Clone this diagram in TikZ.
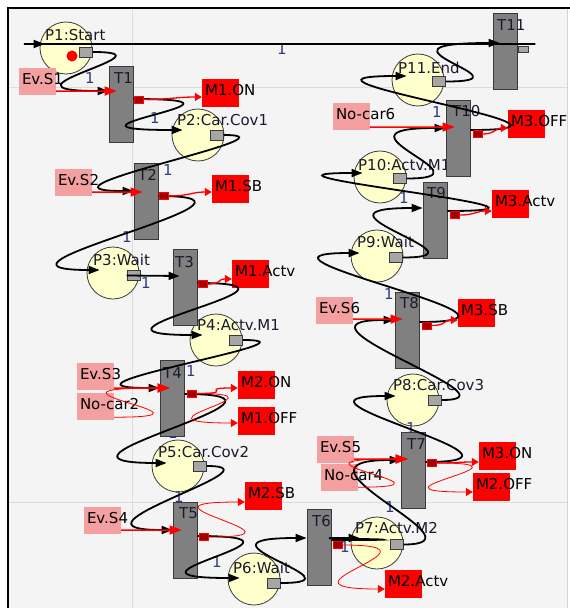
\documentclass[tikz,border=0pt]{standalone}
\usepackage{fontspec}
\setmainfont{DejaVu Sans}
\usetikzlibrary{calc,arrows.meta}

\definecolor{canvas}{HTML}{F4F4F4}
\definecolor{gridln}{HTML}{DCDCDC}
\definecolor{placefill}{HTML}{FFFFCC}
\definecolor{rim}{HTML}{3A3A3A}
\definecolor{transfill}{HTML}{808080}
\definecolor{portfill}{HTML}{A6A6A6}
\definecolor{evfill}{HTML}{F4A0A0}
\definecolor{actfill}{HTML}{FF0000}
\definecolor{firesq}{HTML}{A00000}
\definecolor{wcol}{HTML}{2E3C7E}
\definecolor{txt}{HTML}{1A1A2E}

% fixed-width text field: text may run past the coloured box
\newcommand{\boxtxt}[1]{\makebox[31pt][l]{#1}}

\tikzset{
  lbl/.style={font=\fontsize{15}{18}\selectfont, text=txt, inner sep=0pt, anchor=base west},
  wt/.style={font=\fontsize{15}{18}\selectfont, text=wcol, inner sep=0pt},
  place/.style={circle, draw=rim, fill=placefill, line width=0.8pt, minimum size=52pt, inner sep=0pt},
  port/.style={draw=rim, fill=portfill, line width=0.8pt, minimum width=13pt, minimum height=10pt, inner sep=0pt},
  trans/.style={draw=rim, fill=transfill, line width=0.8pt, minimum width=24pt, minimum height=76pt, inner sep=0pt},
  firesquare/.style={draw=red, fill=firesq, line width=0.6pt, minimum width=9pt, minimum height=7pt, inner sep=0pt},
  sigbox/.style={minimum width=37pt, minimum height=27pt, inner xsep=3pt, inner ysep=0pt,
                 text height=12pt, text depth=7pt, font=\fontsize{15}{18}\selectfont, text=black},
  evbox/.style={sigbox, fill=evfill},
  actbox/.style={sigbox, fill=actfill, minimum height=28pt},
  flow/.style={draw=black, line width=1.8pt, -{Triangle[length=11pt,width=8pt]}},
  redin/.style={draw=red, line width=1.5pt, -{Triangle[length=12pt,width=9pt]}},
  redloop/.style={draw=red, line width=0.8pt, -{Triangle[length=12pt,width=9pt]}},
  redout/.style={draw=red, line width=1.3pt, -{Triangle[length=7pt,width=8pt]}},
  redoutloop/.style={draw=red, line width=0.8pt, -{Triangle[length=7pt,width=8pt]}},
}

\begin{document}
\begin{tikzpicture}[x=1pt, y=-1pt]
\useasboundingbox (0,0) rectangle (570,608);

% ---- canvas, grid and frame ----
\fill[white] (0,0) rectangle (570,608);
\fill[canvas] (8,8) rectangle (567,608);
\draw[gridln, line width=0.8pt] (132,8) -- (132,608);
\draw[gridln, line width=0.8pt] (8,87) -- (567,87);
\draw[gridln, line width=0.8pt] (8,502) -- (567,502);
\draw[gridln!90!gray, line width=1pt] (567,8) -- (567,608);
\draw[black, line width=1.5pt] (8,608) -- (8,8) -- (570,8);

% ---- places ----
\node[place] (P1)  at (66,48)   {};
\node[place] (P2)  at (198,135) {};
\node[place] (P3)  at (113,273) {};
\node[place] (P4)  at (216,340) {};
\node[place] (P5)  at (178,466) {};
\node[place] (P6)  at (254,579) {};
\node[place] (P7)  at (377,543) {};
\node[place] (P8)  at (413,400) {};
\node[place] (P9)  at (377,256) {};
\node[place] (P10) at (380,177) {};
\node[place] (P11) at (418,80)  {};
\fill[red] (72,56) circle (5.5);

\node[lbl] (P1l)  at (45,40)   {P1:Start};
\node[lbl] (P2l)  at (177,125) {P2:Car.Cov1};
\node[lbl] (P3l)  at (93,265)  {P3:Wait};
\node[lbl] (P4l)  at (197,330) {P4:Actv.M1};
\node[lbl] (P5l)  at (158,457) {P5:Car.Cov2};
\node[lbl] (P6l)  at (233,573) {P6:Wait};
\node[lbl] (P7l)  at (355,533) {P7:Actv.M2};
\node[lbl] (P8l)  at (393,390) {P8:Car.Cov3};
\node[lbl] (P9l)  at (357,247) {P9:Wait};
\node[lbl] (P10l) at (358,170) {P10:Actv.M1};
\node[lbl] (P11l) at (398,73)  {P11.End};

% ---- arc weights (drawn below the transition bars) ----
\node[wt] (w1)  at (90,78)   {1};
\node[wt] (w2)  at (282,49)  {1};
\node[wt] (w3)  at (155,118) {1};
\node[wt] (w4)  at (168,170) {1};
\node[wt] (w5)  at (127,237) {1};
\node[wt] (w6)  at (146,283) {1};
\node[wt] (w7)  at (191,371) {1};
\node[wt] (w8)  at (173,433) {1};
\node[wt] (w18) at (179,497) {1};
\node[wt] (w9)  at (217,562) {1};
\node[wt] (w10) at (345,547) {1};
\node[wt] (w11) at (390,507) {1};
\node[wt] (w12) at (411,428) {1};
\node[wt] (w13) at (389,294) {1};
\node[wt] (w14) at (407,364) {1};
\node[wt] (w15) at (404,198) {1};
\node[wt] (w16) at (437,112) {1};

% ---- transitions ----
\node[trans] (T1)  at (121,104) {};
\node[trans] (T2)  at (146,201) {};
\node[trans] (T3)  at (185,287) {};
\node[trans] (T4)  at (172,398) {};
\node[trans] (T5)  at (185,540) {};
\node[trans] (T6)  at (319,547) {};
\node[trans] (T7)  at (413,470) {};
\node[trans] (T8)  at (407,330) {};
\node[trans] (T9)  at (435,220) {};
\node[trans] (T10) at (458,138) {};
\node[trans] (T11) at (505,51)  {};

\node[lbl] (T1l)  at (114,83)  {T1};
\node[lbl] (T2l)  at (138,180) {T2};
\node[lbl] (T3l)  at (175,267) {T3};
\node[lbl] (T4l)  at (163,378) {T4};
\node[lbl] (T5l)  at (179,518) {T5};
\node[lbl] (T6l)  at (312,526) {T6};
\node[lbl] (T7l)  at (407,449) {T7};
\node[lbl] (T8l)  at (400,308) {T8};
\node[lbl] (T9l)  at (427,198) {T9};
\node[lbl] (T10l) at (452,116) {T10};
\node[lbl] (T11l) at (497,30)  {T11};

% ---- place output ports ----
\node[port] (P1o)  at (86,52)      {};
\node[port] (P2o)  at (217,135)    {};
\node[port] (P3o)  at (133.5,275.5){};
\node[port] (P4o)  at (236,340)    {};
\node[port] (P5o)  at (200,466)    {};
\node[port] (P6o)  at (273.5,583)  {};
\node[port] (P7o)  at (396.5,544.5){};
\node[port] (P8o)  at (435,400)    {};
\node[port] (P9o)  at (396,257.5)  {};
\node[port] (P10o) at (400,178.5)  {};
\node[port] (P11o) at (439,81.5)   {};
\node[port, minimum width=10pt, minimum height=6pt] (T11o) at (523,49) {};

% ---- input events ----
\node[evbox] (EvS1)   at (37.5,81.5)  {\boxtxt{Ev.S1}};
\node[evbox] (EvS2)   at (73.5,182.5) {\boxtxt{Ev.S2}};
\node[evbox] (EvS3)   at (95.5,376.5) {\boxtxt{Ev.S3}};
\node[evbox] (Nocar2) at (95.5,406.5) {\boxtxt{No-car2}};
\node[evbox] (EvS4)   at (102.5,520.5){\boxtxt{Ev.S4}};
\node[evbox] (EvS5)   at (335.5,449.5){\boxtxt{Ev.S5}};
\node[evbox] (Nocar4) at (339.5,477.5){\boxtxt{No-car4}};
\node[evbox] (EvS6)   at (334.5,310.5){\boxtxt{Ev.S6}};
\node[evbox] (Nocar6) at (351.5,116.5){\boxtxt{No-car6}};

% ---- output actions ----
\node[actbox] (M1ON)   at (220.5,93)  {\boxtxt{M1.ON}};
\node[actbox] (M1SB)   at (230.5,189) {\boxtxt{M1.SB}};
\node[actbox] (M1Actv) at (250.5,274) {\boxtxt{M1.Actv}};
\node[actbox] (M2ON)   at (256.5,385) {\boxtxt{M2.ON}};
\node[actbox] (M1OFF)  at (256.5,421) {\boxtxt{M1.OFF}};
\node[actbox] (M2SB)   at (263.5,496) {\boxtxt{M2.SB}};
\node[actbox] (M2Actv) at (403.5,584) {\boxtxt{M2.Actv}};
\node[actbox] (M2OFF)  at (491.5,487) {\boxtxt{M2.OFF}};
\node[actbox] (M3ON)   at (497.5,456) {\boxtxt{M3.ON}};
\node[actbox] (M3SB)   at (476.5,313) {\boxtxt{M3.SB}};
\node[actbox] (M3Actv) at (510.5,204) {\boxtxt{M3.Actv}};
\node[actbox] (M3OFF)  at (526.5,124) {\boxtxt{M3.OFF}};

% ---- token flow arcs ----
\draw[flow] (P1o.east) .. controls +(87,0) and +(-126,0) .. ($(T1.west)+(0,-13)$);
\draw[flow] ($(T1.east)+(0,-5)$) .. controls +(153,0) and +(-157,0) .. ($(P2.west)+(11,-5)$);
\draw[flow] (P2o.east) .. controls +(84,0) and +(-121,0) .. ($(T2.west)+(0,-10)$);
\draw[flow] ($(T2.east)+(0,-5)$) .. controls +(147,0) and +(-149,0) .. ($(P3.west)+(13,-3)$);
\draw[flow] (P3o.west) -- ($(T3.west)+(7,-11)$);
\draw[flow] ($(T3.east)+(0,-4)$) .. controls +(144,0) and +(-154,0) .. ($(P4.west)+(13,-5)$);
\draw[flow] (P4o.east) .. controls +(90,0) and +(-131,0) .. ($(T4.west)+(0,-10)$);
\draw[flow] ($(T4.east)+(0,-4)$) .. controls +(151,0) and +(-157,0) .. ($(P5.west)+(15,-3)$);
\draw[flow] (P5o.east) .. controls +(80,0) and +(-123,0) .. ($(T5.west)+(0,-10)$);
\draw[flow] ($(T5.east)+(0,-4)$) .. controls +(143,0) and +(-149,0) .. ($(P6.west)+(12,-1)$);
\draw[flow] (P6o.east) .. controls +(90,0) and +(-130,0) .. ($(T6.west)+(0,-9)$);
\draw[flow] ($(T6.east)+(0,-7)$) .. controls +(143,0) and +(-93,0) .. ($(P7.west)+(9,-5)$);
\draw[flow] (P7o.east) .. controls +(90,0) and +(-130,0) .. ($(T7.west)+(0,-10)$);
\draw[flow] ($(T7.east)+(0,-8)$) .. controls +(138,0) and +(-136,0) .. ($(P8.west)+(9,-4)$);
\draw[flow] (P8o.east) .. controls +(85,0) and +(-123,0) .. ($(T8.west)+(0,-10)$);
\draw[flow] ($(T8.east)+(0,-8)$) .. controls +(154,0) and +(-146,0) .. ($(P9.west)+(9,-3)$);
\draw[flow] (P9o.east) .. controls +(93,0) and +(-130,0) .. ($(T9.west)+(0,-12)$);
\draw[flow] ($(T9.east)+(0,-9)$) .. controls +(167,0) and +(-150,0) .. ($(P10.west)+(9,-4)$);
\draw[flow] (P10o.east) .. controls +(91,0) and +(-127,0) .. ($(T10.west)+(0,-10)$);
\draw[flow] ($(T10.east)+(0,-8)$) .. controls +(161,0) and +(-159,0) .. ($(P11.west)+(15,-4)$);
\draw[flow] (P11o.east) .. controls +(93,0) and +(-147,0) .. ($(T11.west)+(7,-8)$);
\draw[flow] ($(T11.east)+(0,-7)$) .. controls +(140,0) and +(-115,0) .. ($(P1.west)+(5,-4)$);

% ---- event inputs ----
\draw[redin] ($(EvS1.south east)+(0,-4)$) -- ($(T1.west)+(8,-13)$);
\draw[redin] ($(EvS2.south east)+(0,-4)$) -- ($(T2.west)+(9,-9)$);
\draw[redin] ($(EvS3.south east)+(0,-2)$) -- ($(T4.west)+(10,-10)$);
\draw[redloop] ($(Nocar2.south east)+(0,-3)$) .. controls +(126,0) and +(-160,0) .. ($(T4.west)+(10,-10)$);
\draw[redin] ($(EvS4.south east)+(0,-4)$) -- ($(T5.west)+(9,-10)$);
\draw[redin] ($(EvS5.south east)+(0,-4)$) -- ($(T7.west)+(7,-11)$);
\draw[redloop] ($(Nocar4.south east)+(0,-4)$) .. controls +(117,0) and +(-148,0) .. ($(T7.west)+(7,-11)$);
\draw[redin] ($(EvS6.south east)+(0,-5)$) -- ($(T8.west)+(8,-11)$);
\draw[redin] ($(Nocar6.south east)+(0,-3)$) -- ($(T10.west)+(9,-11)$);

% ---- firing squares ----
\node[firesquare] (T1sq)  at (139,99.5)  {};
\node[firesquare] (T2sq)  at (164,196)   {};
\node[firesquare] (T3sq)  at (203,284)   {};
\node[firesquare] (T4sq)  at (192,393.5) {};
\node[firesquare] (T5sq)  at (204,537)   {};
\node[firesquare] (T6sq)  at (337.5,545) {};
\node[firesquare] (T7sq)  at (432,463)   {};
\node[firesquare] (T8sq)  at (427,325.5) {};
\node[firesquare] (T9sq)  at (455,215)   {};
\node[firesquare] (T10sq) at (478,134)   {};

% ---- action outputs ----
\draw[redout] (T1sq.east) .. controls +(25,0) and +(-25,0) .. ($(M1ON.west)+(0,4)$);
\draw[redout] (T2sq.east) .. controls +(20,0) and +(-20,0) .. ($(M1SB.west)+(0,3)$);
\draw[redout] (T3sq.east) .. controls +(15,0) and +(-15,0) .. ($(M1Actv.west)+(0,5)$);
\draw[redout] (T4sq.east) .. controls +(40,0) and +(-40,0) .. ($(M2ON.west)+(0,3)$);
\draw[redoutloop] (T4sq.east) .. controls +(100,0) and +(-121,0) .. ($(M1OFF.west)+(0,2)$);
\draw[redoutloop] (T5sq.east) .. controls +(116,0) and +(-129,0) .. ($(M2SB.west)+(0,6)$);
\draw[redoutloop] (T6sq.east) .. controls +(117,0) and +(-127,0) .. ($(M2Actv.west)+(0,5)$);
\draw[redout] (T7sq.east) .. controls +(20,0) and +(-20,0) .. ($(M3ON.west)+(0,6)$);
\draw[redoutloop] (T7sq.east) .. controls +(112,0) and +(-123,0) .. ($(M2OFF.west)+(0,5)$);
\draw[redout] (T8sq.east) .. controls +(15,0) and +(-15,0) .. ($(M3SB.west)+(0,7)$);
\draw[redout] (T9sq.east) .. controls +(15,0) and +(-15,0) .. ($(M3Actv.west)+(0,7)$);
\draw[redout] (T10sq.east) .. controls +(12,0) and +(-12,0) .. ($(M3OFF.west)+(0,4)$);
\end{tikzpicture}
\end{document}
